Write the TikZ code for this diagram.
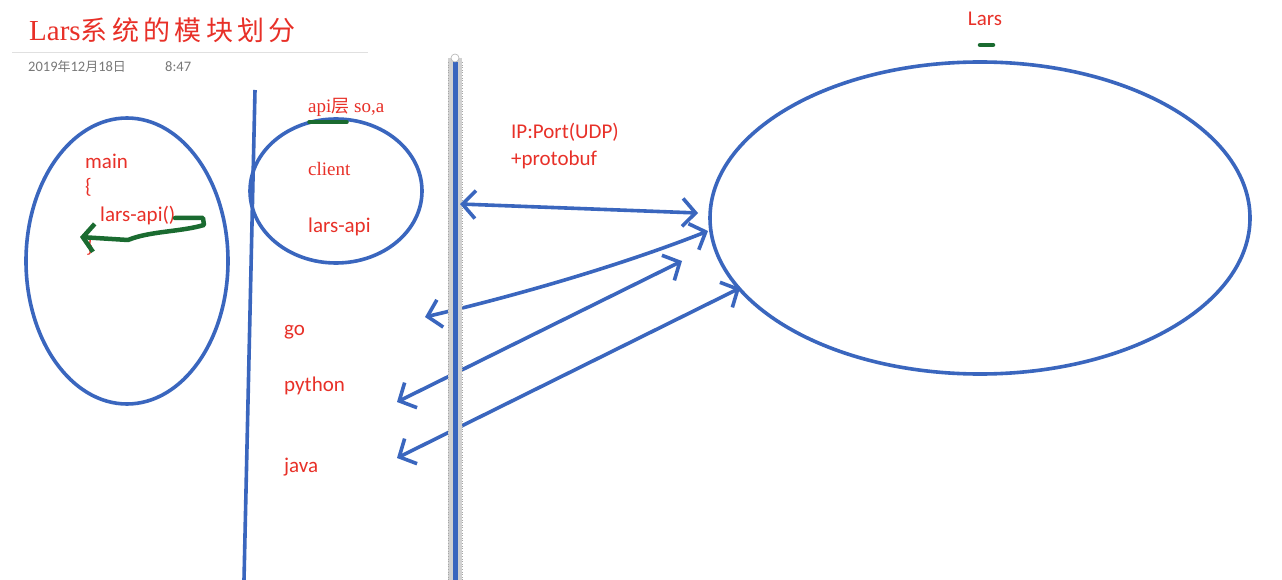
\documentclass[tikz,border=0pt]{standalone}
\usepackage{fontspec}
\setmainfont{Liberation Serif}
\newfontfamily\carlitofont{Carlito}
\newfontfamily\cjkfont{Noto Sans CJK SC}
\usetikzlibrary{shapes.geometric,arrows.meta}
\definecolor{penblue}{RGB}{58,102,190}
\definecolor{penred}{RGB}{232,48,40}
\definecolor{pengreen}{RGB}{26,107,48}
\definecolor{dategray}{RGB}{120,120,120}
\tikzset{
  ell/.style={ellipse, draw=penblue, line width=3.6pt, inner sep=0pt},
  lbl/.style={text=penred, font=\carlitofont\fontsize{21}{25}\selectfont, anchor=west, inner sep=0pt},
  slbl/.style={text=penred, font=\fontsize{19}{23}\selectfont, anchor=west, inner sep=0pt},
  link/.style={draw=penblue, line width=3.6pt, {Straight Barb[length=13pt,width=28pt,line width=3.6pt]}-{Straight Barb[length=13pt,width=28pt,line width=3.6pt]}},
  bluepen/.style={draw=penblue, line width=3.6pt},
  greenpen/.style={draw=pengreen, line width=4.5pt, line cap=round, line join=round},
}
\begin{document}
\begin{tikzpicture}[x=1pt,y=-1pt]
\useasboundingbox[fill=white] (0,0) rectangle (1282,580);

% title
\node[anchor=west, inner sep=0pt, text=penred] (title) at (29,30)
  {\fontsize{29}{32}\selectfont Lars{\cjkfont\addfontfeatures{LetterSpace=16}\fontsize{27}{32}\selectfont 系统的模块划分}};
\draw[black!12, line width=1pt] (12,53) -- (368,53);
\node[anchor=west, inner sep=0pt, text=dategray, font=\carlitofont\fontsize{14.5}{16}\selectfont] (date) at (28,67)
  {2019{\cjkfont\fontsize{13}{16}\selectfont 年}12{\cjkfont\fontsize{13}{16}\selectfont 月}18{\cjkfont\fontsize{13}{16}\selectfont 日}};
\node[anchor=west, inner sep=0pt, text=dategray, font=\carlitofont\fontsize{14.5}{16}\selectfont] (time) at (165,67) {8:47};

% left ellipse
\node[ell, minimum width=202pt, minimum height=286pt] (mainell) at (127,261) {};
\node[lbl] (main) at (85,161) {main};
\node[lbl] (ob) at (85,187) {\{};
\node[lbl] (call) at (100,216) {lars-api()};
\node[lbl] (cb) at (86,246) {\}};
\coordinate (g1) at (175,218);
\coordinate (g2) at (80,237);
\draw[greenpen, -{Straight Barb[length=11pt,width=28pt,line width=4.5pt]}]
  (g1) -- (203,218) -- (204,225) .. controls (180,232) and (150,231) .. (128,240) -- (g2);

% separator
\coordinate (s1) at (255,90);
\coordinate (s2) at (244,580);
\draw[bluepen] (s1) -- (s2);

% client circle
\node[ell, minimum width=172pt, minimum height=144pt] (client) at (336,191) {};
\node[slbl] (apilayer) at (308,107) {api{\cjkfont\fontsize{18}{22}\selectfont 层} so,a};
\draw[pengreen, line width=3.5pt, line cap=round] (309,122) -- (347,122);
\node[slbl] (clienttxt) at (308,169) {client};
\node[lbl] (larsapi) at (308,227) {lars-api};

% languages
\node[lbl] (go) at (284,332) {go};
\node[lbl] (python) at (284,386) {python};
\node[lbl] (java) at (284,467) {java};

% big ellipse
\node[ell, minimum width=540pt, minimum height=312pt] (lars) at (980,218) {};
\node[text=penred, font=\carlitofont\fontsize{21}{25}\selectfont, inner sep=0pt] (larstxt) at (985,19) {Lars};
\draw[pengreen, line width=4.5pt, line cap=round] (980,45) -- (993,45);

\node[lbl] (ip) at (511,132) {IP:Port(UDP)};
\node[lbl] (pb) at (511,160) {+protobuf};

% arrows
\coordinate (a1l) at (460,204);
\coordinate (a1r) at (698,213);
\coordinate (a2l) at (425,317);
\coordinate (a2r) at (708,231);
\coordinate (a3l) at (397,402);
\coordinate (a3r) at (682,261);
\coordinate (a4l) at (397,458);
\coordinate (a4r) at (740,288);
\draw[link] (a2l) .. controls (540,290) and (640,258) .. (a2r);
\draw[link] (a3l) -- (a3r);
\draw[link] (a4l) -- (a4r);

% central bar
\coordinate (b1) at (455,58);
\coordinate (b2) at (455,580);
\draw[black!18, line width=14pt] (b1) -- (b2);
\draw[black!35, line width=0.6pt, dotted] (448,62) -- (448,580);
\draw[black!35, line width=0.6pt, dotted] (462,62) -- (462,580);
\draw[penblue, line width=5pt] (455,62) -- (b2);
\fill[white] (b1) circle (4pt);
\draw[black!30, line width=0.6pt] (b1) circle (4pt);

\draw[link] (a1l) -- (a1r);
\end{tikzpicture}
\end{document}
